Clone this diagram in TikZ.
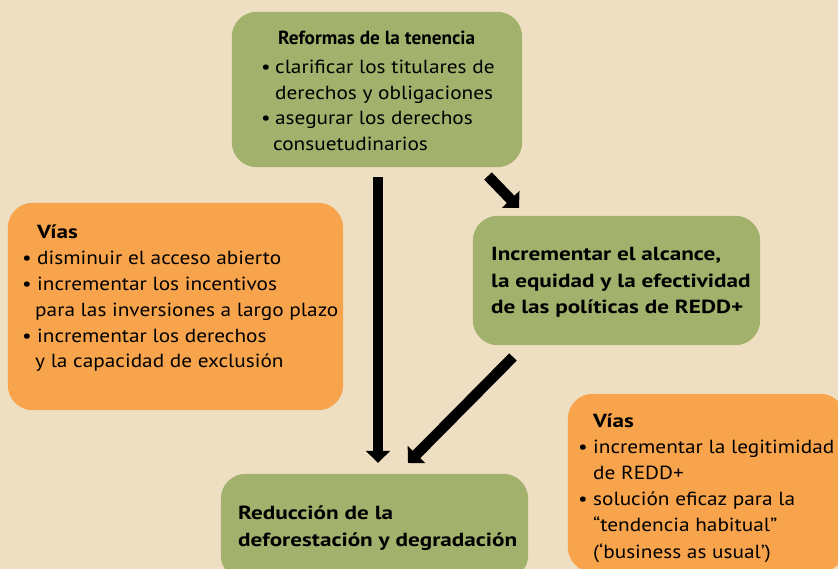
\documentclass[tikz,border=0pt]{standalone}
\usepackage{fontspec}
\usepackage{graphicx}
\setmainfont{PT Sans}[FakeStretch=1.12, BoldFeatures={FakeStretch=1.22}]
\usetikzlibrary{arrows.meta}
\definecolor{bg}{HTML}{EEDEC2}
\definecolor{boxgreen}{HTML}{A2B16C}
\definecolor{boxorange}{HTML}{F8A44C}
\newcommand{\bul}{\makebox[14pt][l]{\textbullet}}
\newcommand{\ind}{\hspace*{14pt}}
\tikzset{
  gbox/.style={fill=boxgreen, rounded corners=25pt, draw=none},
  obox/.style={fill=boxorange, rounded corners=25pt, draw=none},
  txt/.style={anchor=base west, inner sep=0pt, font=\fontsize{19}{26}\selectfont},
  arr/.style={line width=10.5pt, -{Triangle[width=24pt,length=12pt]}, black}
}
\begin{document}
\begin{tikzpicture}[x=1pt,y=-1pt]
\clip (0,0) rectangle (838,569);
\fill[bg] (0,0) rectangle (838,569);
% boxes
\node[inner sep=0pt, minimum width=290pt, minimum height=155pt] (top) at (377,89.5) {};
\node[inner sep=0pt, minimum width=335pt, minimum height=207pt] (left) at (175.5,306.5) {};
\node[inner sep=0pt, minimum width=287pt, minimum height=129pt] (right) at (616.5,280.5) {};
\node[inner sep=0pt, minimum width=307pt, minimum height=106pt] (bot) at (374.5,527) {};
\node[inner sep=0pt, minimum width=277pt, minimum height=178pt] (br) at (706.5,483) {};
\fill[gbox] (top.north west) rectangle (top.south east);
\fill[obox] (left.north west) rectangle (left.south east);
\fill[gbox] (right.north west) rectangle (right.south east);
\fill[gbox] (bot.north west) rectangle (bot.south east);
\fill[obox] (br.north west) rectangle (br.south east);
% texts
\node[txt] (toptitle) at (278,45) {\scalebox{0.83}[1]{\bfseries Reformas de la tenencia}};
\node[txt] (toptext) at (261,74) {\vtop{\baselineskip=25.5pt
  \hbox{\bul clarificar los titulares de}
  \hbox{\ind derechos y obligaciones}
  \hbox{\bul asegurar los derechos}
  \hbox{\hspace*{12pt}consuetudinarios}}};
\node[txt] (lefttext) at (22,239) {\vtop{\baselineskip=25.8pt
  \hbox{\hspace*{15pt}\bfseries Vías}
  \hbox{\makebox[15pt][l]{\textbullet}disminuir el acceso abierto}
  \hbox{\makebox[15pt][l]{\textbullet}incrementar los incentivos}
  \hbox{\hspace*{13pt}para las inversiones a largo plazo}
  \hbox{\makebox[15pt][l]{\textbullet}incrementar los derechos}
  \hbox{\hspace*{13pt}y la capacidad de exclusión}}};
\node[txt, font=\fontsize{19}{26}\bfseries] (righttext) at (491,261) {\vtop{\baselineskip=26.5pt
  \hbox{Incrementar el alcance,}
  \hbox{la equidad y la efectividad}
  \hbox{de las políticas de REDD+}}};
\node[txt, font=\fontsize{19}{26}\bfseries] (bottext) at (238,519) {\vtop{\baselineskip=27pt
  \hbox{Reducción de la}
  \hbox{deforestación y degradación}}};
\node[txt] (brtext) at (578,427) {\vtop{\baselineskip=26.2pt
  \hbox{\hspace*{15pt}\bfseries Vías}
  \hbox{\makebox[15pt][l]{\textbullet}incrementar la legitimidad}
  \hbox{\hspace*{15pt}de REDD+}
  \hbox{\makebox[15pt][l]{\textbullet}solución eficaz para la}
  \hbox{\hspace*{15pt}“tendencia habitual”}
  \hbox{\hspace*{15pt}(‘business as usual’)}}};
% arrows
\coordinate (a1s) at (488,176);
\coordinate (a1e) at (519,208);
\coordinate (a2s) at (513,357);
\coordinate (a2e) at (408,463);
\draw[arr] (top.south) ++(1,10) -- ([xshift=1pt,yshift=11pt]top.south |- bot.north);
\draw[arr] (a1s) -- (a1e);
\draw[arr] (a2s) -- (a2e);
\end{tikzpicture}
\end{document}
